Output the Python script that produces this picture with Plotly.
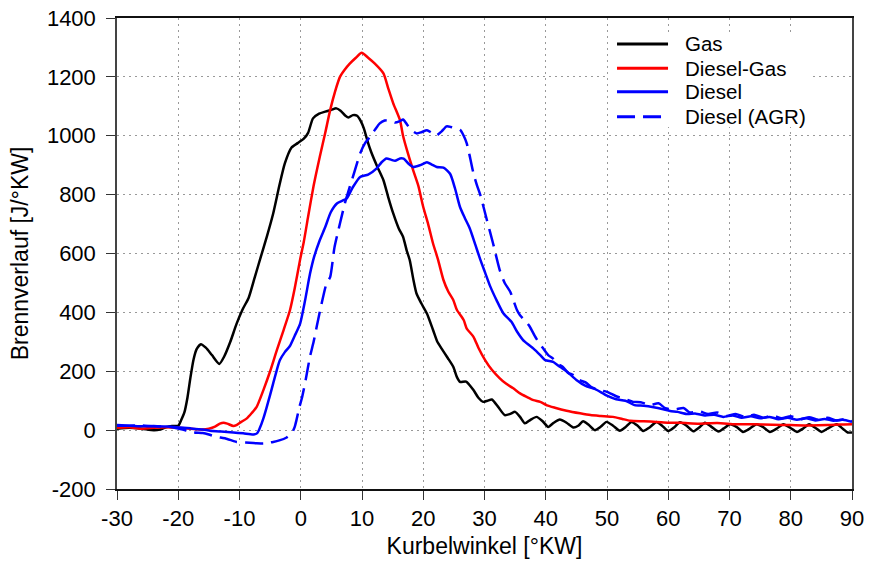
import plotly.graph_objects as go

# ---- data ----
gas_x = [-30, -28, -26, -24, -23, -22, -21, -20, -19.5, -19, -18.5, -18, -17.5, -17, -16.3, -15.5, -14.5, -13.3,
         -12.5, -11.5, -10.5, -9.5, -8.5, -7.5, -6.5, -5.5, -4.5, -3.5, -2.6, -1.5, -0.5, 0.5, 1.2, 2, 3, 4, 5,
         5.8, 6.5, 7.3, 7.8, 8.5, 9.2, 9.8, 10.3, 11, 11.5, 12.5, 13.5, 14.3, 15.1, 16, 16.7, 17.3, 17.8, 18.4,
         18.9, 19.7, 20.6, 21.6, 22.3, 23, 24, 24.9, 25.5, 26, 27, 28.2, 29, 29.8, 30.5, 31.2, 32.2, 33.3, 34.2,
         35, 35.8, 36.6, 37.5, 38.5, 39.5, 40.4, 41.3, 42.3, 43.4, 44.5, 45.3, 46.1, 47, 48, 49, 49.9, 51, 52.1,
         53, 54, 55, 55.9, 57, 58.1, 59, 60, 61, 61.9, 63, 64.1, 65, 66, 67, 68.2, 69, 70.1, 71.2, 72.2, 73.3,
         74.4, 75.5, 76.6, 77.7, 78.8, 79.9, 81, 82, 83, 84, 85, 86, 87.5, 88.5, 89.3, 90]
gas_y = [5, 8, 5, 0, 2, 10, 14, 15, 35, 60, 110, 180, 240, 275, 292, 280, 255, 225,
         250, 300, 360, 410, 450, 520, 590, 660, 736, 830, 906, 960, 975, 990, 1010, 1059, 1075, 1082, 1088,
         1093, 1085, 1068, 1062, 1070, 1068, 1050, 1025, 975, 945, 895, 849, 790, 736, 685, 657, 610, 577, 510,
         464, 430, 396, 340, 300, 277, 245, 215, 180, 164, 165, 136, 110, 96, 100, 104, 80, 51, 55,
         62, 45, 23, 35, 45, 30, 11, 25, 36, 25, 9, 15, 30, 18, 0, 12, 28, 15, -2,
         10, 28, 15, -3, 10, 28, 15, -3, 10, 27, 15, -4, 8, 25, 12, -5, 5, 20, 10, -6, 5,
         20, 10, -6, 5, 20, 8, -6, 5, 20, 8, -6, 5, 20, 5, -8, -8]

dg_x = [-30, -28, -26, -24, -22, -20, -18, -16, -15, -14, -13.2, -12.6, -12, -11, -10.5, -9.7, -8.8, -8, -7.2,
        -6.1, -5, -3.9, -2.8, -1.75, -1, -0.1, 0.5, 1.2, 2.1, 3.1, 4, 4.8, 5.6, 6.4, 7.2, 8, 9, 9.95, 11, 12.1,
        13.5, 14.3, 15.1, 16.2, 16.7, 17.5, 18.4, 19.2, 20, 20.8, 21.6, 22.4, 23.3, 24.1, 24.9, 25.5, 26.6, 27.1,
        28.2, 29, 30.1, 31.2, 32.5, 33.5, 34.7, 35.8, 36.9, 38, 39.1, 40.2, 41.5, 43.4, 45.6, 47.3, 49, 51, 52.5,
        53.8, 56, 58.1, 60, 62, 65, 68, 71, 74, 77, 80, 83, 86, 88, 90]
dg_y = [8, 10, 5, 8, 10, 8, 5, 2, 5, 12, 22, 25, 22, 14, 17, 28, 40, 58, 79,
        136, 200, 272, 340, 408, 480, 580, 640, 725, 830, 928, 1010, 1087, 1150, 1200, 1225, 1245, 1265, 1282, 1265, 1245,
        1212, 1160, 1110, 1053, 1000, 940, 880, 830, 758, 700, 634, 580, 510, 470, 442, 408, 374, 345,
        317, 280, 238, 205, 176, 158, 142, 125, 113, 102, 96, 84, 76, 66, 57, 51, 48, 45, 38,
        32, 30, 28, 25, 25, 22, 24, 20, 20, 18, 17, 16, 17, 19, 20]

d_x = [-30, -28, -26, -24, -22, -20.3, -18, -16, -14.8, -13, -11, -9.4, -7.7, -7.1, -6.7, -6.1, -5.6, -5, -4.5,
       -3.9, -3.4, -2.6, -1.8, -1, -0.1, 0.7, 1.5, 2.2, 3.1, 4, 4.9, 5.9, 7.5, 8.5, 9.7, 11, 12.4, 13.2, 14, 14.8,
       15.4, 16.2, 16.8, 17.6, 18.4, 19.5, 20.6, 21.4, 22.2, 23.3, 24.4, 25.2, 26, 26.8, 27.6, 28.5, 29.3, 30.1,
       30.9, 32, 33.1, 34.4, 35.3, 36.3, 37.2, 38, 39.1, 39.9, 41.2, 42.3, 43.4, 45, 46.5, 48, 49.9, 51.5, 53,
       54.5, 56, 57.6, 59, 60.3, 61.5, 63, 64.5, 66, 67.5, 69, 70.5, 72, 73.5, 75, 76.5, 78, 79.5, 81, 82.5, 84,
       85.5, 87, 88.5, 90]
d_y = [15, 15, 13, 14, 12, 10, 6, 2, -2, -5, -8, -11, -15, -10, 6, 40, 75, 120, 159,
       205, 238, 265, 285, 320, 362, 440, 530, 590, 645, 690, 740, 770, 787, 825, 860, 868, 889, 910, 923, 918,
       915, 923, 922, 905, 894, 900, 910, 902, 894, 892, 870, 820, 758, 720, 685, 630, 580, 535,
       490, 440, 396, 368, 335, 306, 290, 277, 255, 238, 232, 215, 200, 170, 150, 140, 118, 105, 100,
       85, 83, 78, 72, 65, 62, 55, 56, 50, 52, 45, 50, 42, 47, 40, 45, 37, 42, 35, 40, 33,
       38, 32, 35, 28]

agr_x = [-30, -28, -26, -24, -22, -21, -19.5, -17.5, -16, -15, -14, -13.2, -12, -10.5, -9, -7.2, -6, -4.5, -3.5,
         -2.3, -1.5, -1, -0.7, -0.2, 0.2, 0.8, 1.5, 2.1, 2.6, 3.3, 4.2, 4.8, 5.5, 6.4, 7.2, 8, 8.8, 9.7, 10.5,
         11.3, 12.1, 12.9, 13.7, 14.6, 15.4, 16.2, 16.7, 17.3, 18, 18.9, 19.7, 20.6, 21.4, 22.2, 23, 23.8, 24.5,
         25.2, 26, 26.6, 27.1, 27.6, 28.2, 28.8, 29.3, 30.4, 31.4, 32.5, 33.3, 34.2, 35.3, 35.8, 36.9, 37.4, 38.2,
         38.8, 39.6, 40.4, 41.2, 42, 42.8, 43.6, 44.5, 45.5, 46.5, 47.5, 48.8, 50, 51.5, 53, 54.3, 55.5, 57, 58.4,
         59.5, 61, 62.5, 63.5, 65, 66.5, 68, 69.5, 71, 72.5, 74, 75.5, 77, 78.5, 80, 81.5, 83, 84.5, 86, 87.5, 89, 90]
agr_y = [17, 15, 16, 13, 12, 10, 3, -8, -10, -15, -22, -25, -30, -40, -42, -45, -45, -40, -35,
         -25, -12, 10, 34, 80, 110, 170, 249, 300, 351, 420, 498, 520, 620, 702, 770, 826, 880, 940, 975,
         996, 1020, 1042, 1052, 1053, 1045, 1050, 1055, 1040, 1020, 1008, 1012, 1019, 1010, 1002, 1015, 1032, 1030,
         1025, 1020, 1000, 974, 930, 872, 830, 800, 713, 634, 543, 500, 470, 408, 390, 365, 351, 320,
         300, 277, 255, 243, 225, 215, 195, 187, 170, 162, 145, 136, 130, 115, 105, 96, 95, 85, 91,
         75, 70, 75, 60, 64, 55, 60, 48, 55, 45, 52, 42, 50, 40, 47, 37, 44, 35, 42, 33, 38, 30]

x_ticks = [-30, -20, -10, 0, 10, 20, 30, 40, 50, 60, 70, 80, 90]
y_ticks = [-200, 0, 200, 400, 600, 800, 1000, 1200, 1400]

series_names = ["Gas", "Diesel-Gas", "Diesel", "Diesel (AGR)"]
series_x = [gas_x, dg_x, d_x, agr_x]
series_y = [gas_y, dg_y, d_y, agr_y]
series_colors = ["#000000", "#ff0000", "#0000ff", "#0000ff"]
series_dash = ["solid", "solid", "solid", "18px,8px"]

FONT = "Liberation Sans, Arial, sans-serif"

fig = go.Figure()
for name, xs, ys, col, dash in zip(series_names, series_x, series_y, series_colors, series_dash):
    fig.add_trace(go.Scatter(x=xs, y=ys, mode="lines", name=name, showlegend=False,
                             line=dict(color=col, width=2.5, dash=dash, shape="spline", smoothing=0.6)))

axis_common = dict(
    showline=True, linewidth=1.5, mirror=True,
    ticks="outside", ticklen=9, tickwidth=1, tickcolor="#333333",
    showgrid=True, gridcolor="#999999", gridwidth=1, griddash="2px,4px",
    zeroline=False, tickfont=dict(family=FONT, size=22, color="#000000"),
    automargin=False,
)
fig.update_xaxes(range=[-30, 90], tickvals=x_ticks, ticktext=[str(v) for v in x_ticks],
                 linecolor="#111111",
                 title=dict(text="Kurbelwinkel [°KW]", font=dict(family=FONT, size=23, color="#000000"), standoff=8),
                 **axis_common)
fig.update_yaxes(range=[-200, 1400], tickvals=y_ticks, ticktext=[str(v) for v in y_ticks],
                 linecolor="#444444", ticklabelstandoff=6,
                 title=dict(text="Brennverlauf [J/°KW]", font=dict(family=FONT, size=23, color="#000000"), standoff=12),
                 **axis_common)

# legend drawn as a white box with line samples and labels (top right, inside the plot)
leg_rows = [0.9448, 0.8932, 0.8435, 0.7904]
shapes = [dict(type="rect", xref="paper", yref="paper", x0=0.668, x1=0.945, y0=0.7686, y1=0.9682,
               fillcolor="white", line=dict(width=0), layer="above")]
annotations = []
for name, col, dash, yy in zip(series_names, series_colors, series_dash, leg_rows):
    shapes.append(dict(type="line", xref="paper", yref="paper", x0=0.6803, x1=0.7497, y0=yy, y1=yy,
                       line=dict(color=col, width=3, dash=dash), layer="above"))
    annotations.append(dict(xref="paper", yref="paper", x=0.770, y=yy, text=name, showarrow=False,
                            xanchor="left", yanchor="middle",
                            font=dict(family=FONT, size=20.5, color="#000000")))

fig.update_layout(
    width=869, height=563,
    margin=dict(l=117, r=17, t=18, b=74),
    plot_bgcolor="white", paper_bgcolor="white",
    font=dict(family=FONT, size=20, color="#000000"),
    shapes=shapes, annotations=annotations,
    showlegend=False,
)

fig.write_html("out.html")
